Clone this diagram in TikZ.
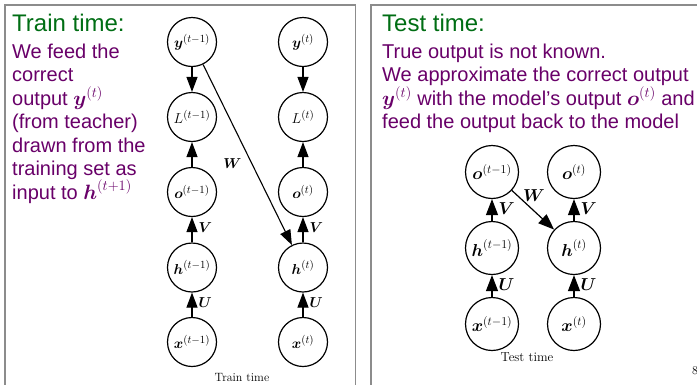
\documentclass[tikz,border=0pt]{standalone}
\usepackage{amsmath,amssymb}
\usepackage{fontspec}
\newfontfamily\arial{Liberation Sans}
\usetikzlibrary{arrows.meta}
\DeclareMathSizes{14.4}{14.4}{10.95}{8}
\DeclareMathSizes{17.28}{17.28}{12}{9}
\definecolor{ttgreen}{RGB}{0,110,20}
\definecolor{ttpurple}{RGB}{105,0,105}
\definecolor{boxgray}{RGB}{140,140,140}
\begin{document}
\begin{tikzpicture}[x=1pt,y=-1pt,
  st/.style={circle, draw, line width=1.2pt, minimum size=49pt, inner sep=0pt, font=\fontsize{14.4}{17}\selectfont},
  stb/.style={st, minimum size=53pt, font=\fontsize{17.28}{19}\selectfont},
  arr/.style={line width=1.1pt, -{Triangle[length=15pt,width=11pt]}},
  arrb/.style={line width=1.2pt, -{Triangle[length=16pt,width=12pt]}},
  wlab/.style={font=\fontsize{14.4}{17}\selectfont, inner sep=1pt},
  wlabb/.style={font=\fontsize{17.28}{19}\selectfont, inner sep=1pt},
  ttl/.style={anchor=base west, inner sep=0pt, text=ttgreen, font=\arial\fontsize{24}{28}\selectfont},
  txt/.style={anchor=base west, inner sep=0pt, text=ttpurple, font=\arial\fontsize{20}{23.5}\selectfont},
  boxline/.style={draw=boxgray, line width=1.5pt}]
\useasboundingbox (0,0) rectangle (697,384);
\fill[white] (0,0) rectangle (697,384);
% panels
\draw[boxline] (5,400) -- (5,5) -- (355.5,5) -- (355.5,400);
\draw[boxline] (371,400) -- (371,5) -- (710,5);
% left text
\node[ttl] (lt0) at (12,31) {Train time:};
\node[txt] (lt1) at (12,58) {We feed the};
\node[txt] (lt2) at (12,81.5) {correct};
\node[txt] (lt3) at (12,105) {output $\boldsymbol{y}^{(t)}$};
\node[txt] (lt4) at (12,128.5) {(from teacher)};
\node[txt] (lt5) at (12,152) {drawn from the};
\node[txt] (lt6) at (12,175.5) {training set as};
\node[txt] (lt7) at (12,199) {input to $\boldsymbol{h}^{(t+1)}$};
% right text
\node[ttl] (rt0) at (382,31) {Test time:};
\node[txt] (rt1) at (382,58) {True output is not known.};
\node[txt] (rt2) at (382,81.5) {We approximate the correct output};
\node[txt] (rt3) at (382,105) {$\boldsymbol{y}^{(t)}$ with the model’s output $\boldsymbol{o}^{(t)}$ and};
\node[txt] (rt4) at (382,128.5) {feed the output back to the model};
% train diagram
\node[st] (y1) at (192,42) {$\boldsymbol{y}^{(t-1)}$};
\node[st] (y2) at (303,42) {$\boldsymbol{y}^{(t)}$};
\node[st] (L1) at (192,117) {$L^{(t-1)}$};
\node[st] (L2) at (303,117) {$L^{(t)}$};
\node[st] (o1) at (192,192) {$\boldsymbol{o}^{(t-1)}$};
\node[st] (o2) at (303,192) {$\boldsymbol{o}^{(t)}$};
\node[st] (h1) at (192,267.5) {$\boldsymbol{h}^{(t-1)}$};
\node[st] (h2) at (303,267.5) {$\boldsymbol{h}^{(t)}$};
\node[st] (x1) at (192,342) {$\boldsymbol{x}^{(t-1)}$};
\node[st] (x2) at (303,342) {$\boldsymbol{x}^{(t)}$};
\draw[arr] (y1) -- (L1);
\draw[arr] (y2) -- (L2);
\draw[arr] (o1) -- (L1);
\draw[arr] (o2) -- (L2);
\draw[arr] (h1) -- node[pos=0.57, right=5pt, wlab] {$\boldsymbol{V}$} (o1);
\draw[arr] (h2) -- node[pos=0.57, right=5pt, wlab] {$\boldsymbol{V}$} (o2);
\draw[arr] (x1) -- node[pos=0.57, right=5pt, wlab] {$\boldsymbol{U}$} (h1);
\draw[arr] (x2) -- node[pos=0.57, right=5pt, wlab] {$\boldsymbol{U}$} (h2);
\draw[arr] (y1) -- node[pos=0.55, left=9pt, wlab] {$\boldsymbol{W}$} (h2);
\node[font=\fontsize{12}{14}\selectfont, anchor=base, inner sep=0pt] (cap1) at (242,381) {Train time};
% test diagram
\node[stb] (ro1) at (492,172) {$\boldsymbol{o}^{(t-1)}$};
\node[stb] (ro2) at (574,172) {$\boldsymbol{o}^{(t)}$};
\node[stb] (rh1) at (492,248) {$\boldsymbol{h}^{(t-1)}$};
\node[stb] (rh2) at (574,248) {$\boldsymbol{h}^{(t)}$};
\node[stb] (rx1) at (492,324) {$\boldsymbol{x}^{(t-1)}$};
\node[stb] (rx2) at (574,324) {$\boldsymbol{x}^{(t)}$};
\draw[arrb] (rh1) -- node[pos=0.55, right=5pt, wlabb] {$\boldsymbol{V}$} (ro1);
\draw[arrb] (rh2) -- node[pos=0.55, right=5pt, wlabb] {$\boldsymbol{V}$} (ro2);
\draw[arrb] (rx1) -- node[pos=0.55, right=5pt, wlabb] {$\boldsymbol{U}$} (rh1);
\draw[arrb] (rx2) -- node[pos=0.55, right=5pt, wlabb] {$\boldsymbol{U}$} (rh2);
\draw[arrb] (ro1) -- node[pos=0.45, above=5pt, xshift=3pt, wlabb] {$\boldsymbol{W}$} (rh2);
\node[font=\fontsize{13}{15}\selectfont, anchor=base, inner sep=0pt] (cap2) at (527,361) {Test time};
\node[font=\fontsize{12}{14}\selectfont, anchor=base west, inner sep=0pt] (pg) at (692,374) {8};
\end{tikzpicture}
\end{document}
